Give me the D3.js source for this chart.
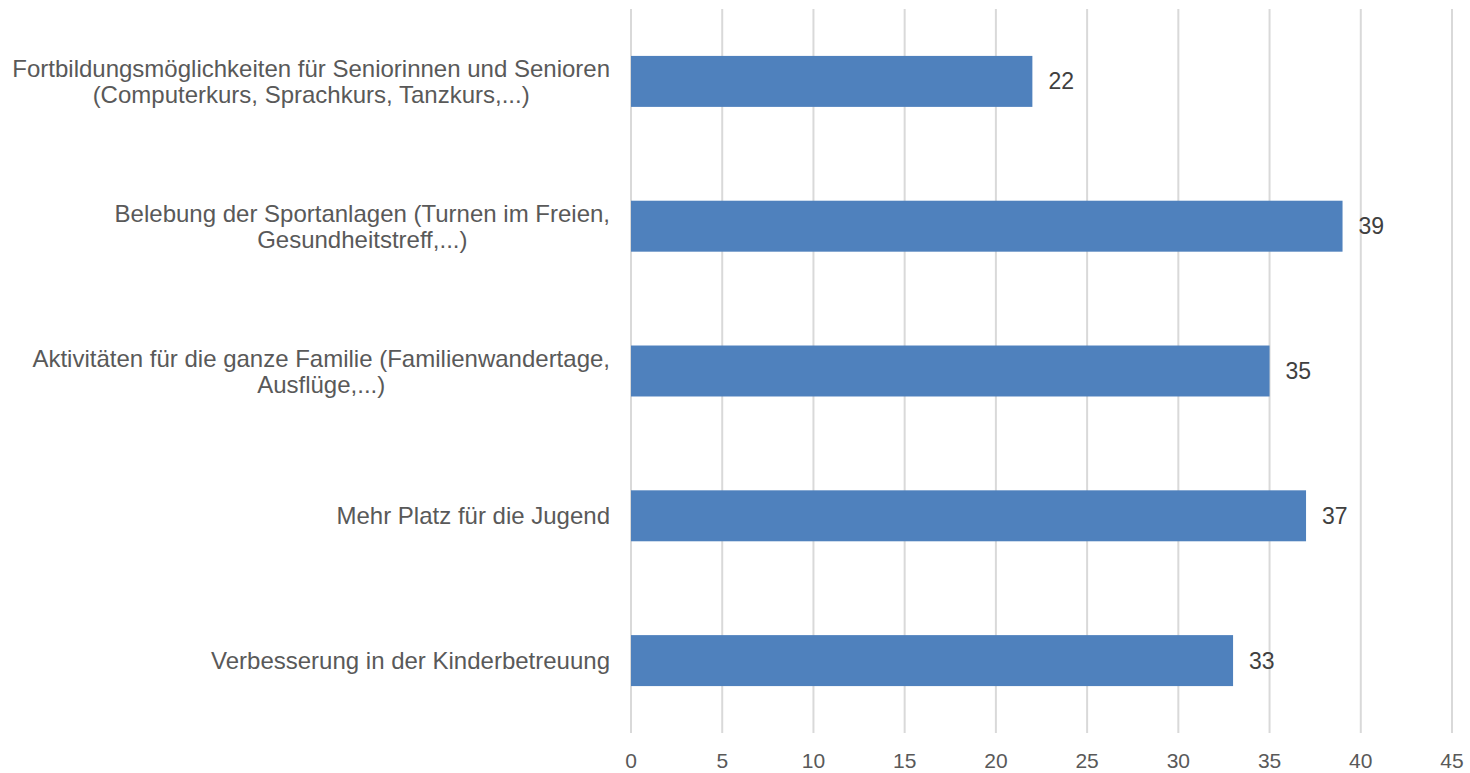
<!DOCTYPE html>
<html>
<head>
<meta charset="utf-8">
<script src="https://cdn.jsdelivr.net/npm/d3@7"></script>
<style>
  body { margin: 0; background: #fff; }
  svg text { font-family: "Liberation Sans", Arial, sans-serif; }
</style>
</head>
<body>
<svg id="chart" width="1470" height="773"></svg>
<script>
// categories, top to bottom, each split into its display lines
var categories = [
  ["Fortbildungsmöglichkeiten für Seniorinnen und Senioren", "(Computerkurs, Sprachkurs, Tanzkurs,...)"],
  ["Belebung der Sportanlagen (Turnen im Freien,", "Gesundheitstreff,...)"],
  ["Aktivitäten für die ganze Familie (Familienwandertage,", "Ausflüge,...)"],
  ["Mehr Platz für die Jugend"],
  ["Verbesserung in der Kinderbetreuung"]
];
var values = [22, 39, 35, 37, 33];
var xTicks = [0, 5, 10, 15, 20, 25, 30, 35, 40, 45];

var plotLeft = 631, plotRight = 1452, plotTop = 9, plotBottom = 733;
var svg = d3.select("#chart");

var x = d3.scaleLinear().domain([0, 45]).range([plotLeft, plotRight]);
var keys = categories.map(function(d, i) { return i; });
var y = d3.scaleBand().domain(keys).range([plotTop, plotBottom])
  .paddingInner(0.648).paddingOuter(0.324);

// gridlines
svg.append("g").selectAll("line")
  .data(xTicks)
  .enter().append("line")
  .attr("x1", function(d) { return x(d); })
  .attr("x2", function(d) { return x(d); })
  .attr("y1", plotTop)
  .attr("y2", plotBottom)
  .attr("stroke", "#d9d9d9")
  .attr("stroke-width", 2);

// x axis labels
svg.append("g").selectAll("text")
  .data(xTicks)
  .enter().append("text")
  .attr("x", function(d) { return x(d); })
  .attr("y", 768)
  .attr("text-anchor", "middle")
  .attr("font-size", "21px")
  .attr("fill", "#595959")
  .text(function(d) { return d; });

// bars
svg.append("g").selectAll("rect")
  .data(values)
  .enter().append("rect")
  .attr("x", x(0))
  .attr("y", function(d, i) { return y(i); })
  .attr("width", function(d) { return x(d) - x(0); })
  .attr("height", y.bandwidth())
  .attr("fill", "#4f81bd");

// value labels
svg.append("g").selectAll("text")
  .data(values)
  .enter().append("text")
  .attr("x", function(d) { return x(d) + 16; })
  .attr("y", function(d, i) { return y(i) + y.bandwidth() / 2 + 8; })
  .attr("font-size", "23px")
  .attr("fill", "#404040")
  .text(function(d) { return d; });

// category labels: block right-aligned, lines centred inside it
var lineH = 26, labelRight = 610;
var cat = svg.append("g").selectAll("text")
  .data(categories)
  .enter().append("text")
  .attr("text-anchor", "middle")
  .attr("font-size", "24px")
  .attr("fill", "#595959");
cat.each(function(lines, i) {
  var cy = y(i) + y.bandwidth() / 2;
  var y0 = cy - (lines.length - 1) * lineH / 2 + 8.5;
  var spans = d3.select(this).selectAll("tspan")
    .data(lines)
    .enter().append("tspan")
    .attr("y", function(d, j) { return y0 + j * lineH; })
    .text(function(d) { return d; });
  var maxW = 0;
  spans.each(function() { maxW = Math.max(maxW, this.getComputedTextLength()); });
  spans.attr("x", labelRight - maxW / 2);
});
</script>
</body>
</html>
